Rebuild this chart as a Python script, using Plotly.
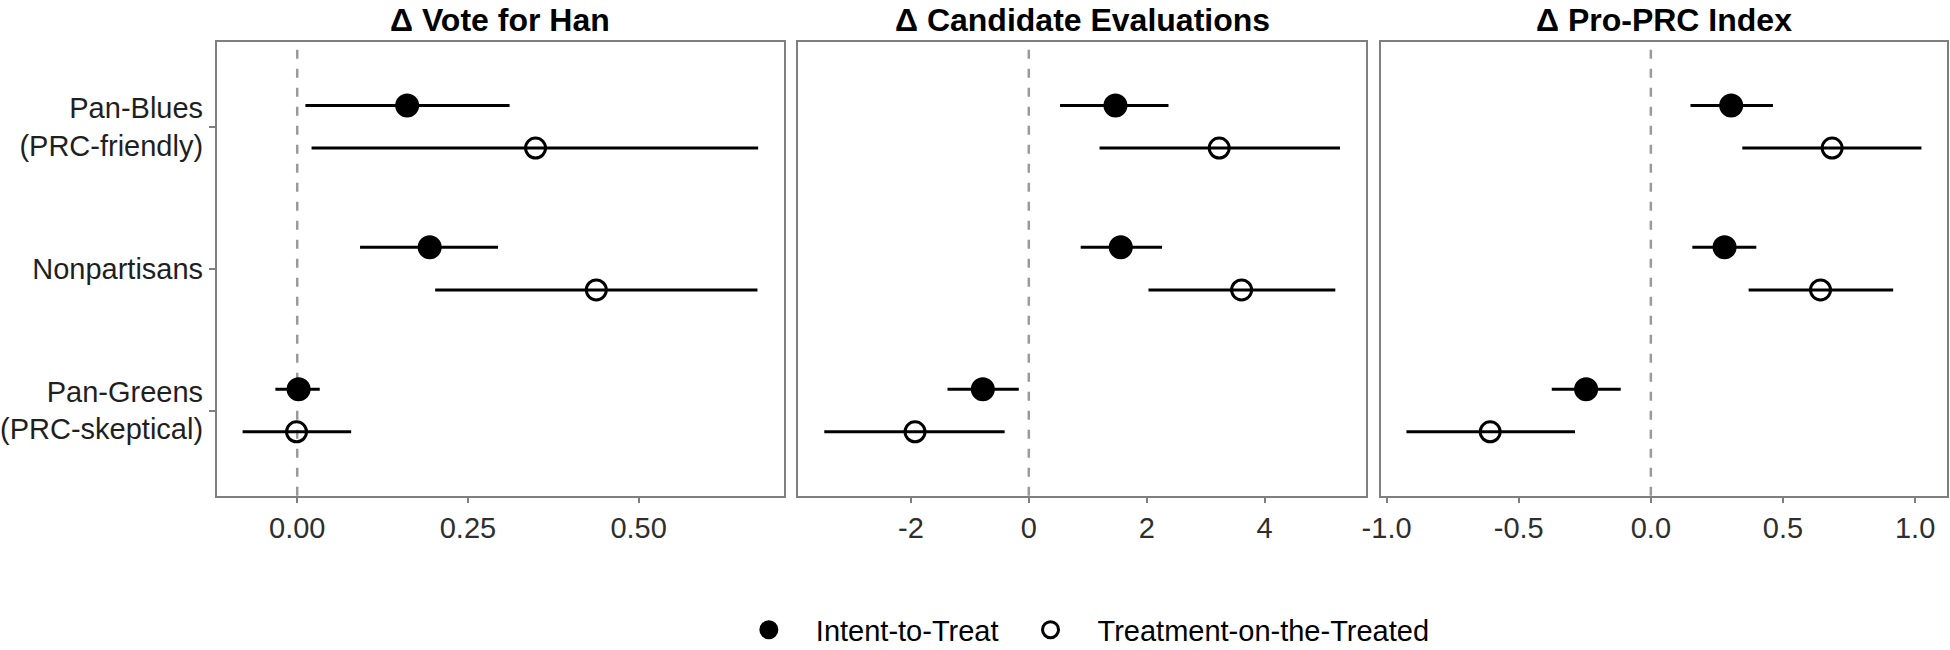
import plotly.graph_objects as go

# ---------------- data ----------------
groups = ["Pan-Blues<br>(PRC-friendly)", "Nonpartisans", "Pan-Greens<br>(PRC-skeptical)"]
group_pos = [3, 2, 1]
panel_titles = ["<b>Δ Vote for Han</b>", "<b>Δ Candidate Evaluations</b>", "<b>Δ Pro-PRC Index</b>"]
series_names = ["Intent-to-Treat", "Treatment-on-the-Treated"]

# Δ Vote for Han
vote_itt_est = [0.161, 0.194, 0.002]
vote_itt_lo = [0.012, 0.092, -0.032]
vote_itt_hi = [0.311, 0.294, 0.033]
vote_tot_est = [0.349, 0.438, -0.001]
vote_tot_lo = [0.021, 0.202, -0.080]
vote_tot_hi = [0.675, 0.674, 0.079]

# Δ Candidate Evaluations
cand_itt_est = [1.47, 1.56, -0.78]
cand_itt_lo = [0.53, 0.88, -1.38]
cand_itt_hi = [2.37, 2.26, -0.17]
cand_tot_est = [3.23, 3.61, -1.93]
cand_tot_lo = [1.20, 2.03, -3.47]
cand_tot_hi = [5.28, 5.20, -0.41]

# Δ Pro-PRC Index
prc_itt_est = [0.304, 0.279, -0.245]
prc_itt_lo = [0.150, 0.157, -0.375]
prc_itt_hi = [0.462, 0.399, -0.114]
prc_tot_est = [0.686, 0.642, -0.608]
prc_tot_lo = [0.346, 0.370, -0.925]
prc_tot_hi = [1.024, 0.917, -0.287]

vote_ticks = [0, 0.25, 0.5]
vote_ticktext = ["0.00", "0.25", "0.50"]
cand_ticks = [-2, 0, 2, 4]
cand_ticktext = ["-2", "0", "2", "4"]
prc_ticks = [-1.0, -0.5, 0.0, 0.5, 1.0]
prc_ticktext = ["-1.0", "-0.5", "0.0", "0.5", "1.0"]

# ---------------- figure ----------------
FONT = "Liberation Sans, Arial, Helvetica, sans-serif"
BORDER = "#7f7f7f"
TICKTXT = "#2e2e2e"
dodge = 0.15

panels = [
    dict(itt=(vote_itt_est, vote_itt_lo, vote_itt_hi), tot=(vote_tot_est, vote_tot_lo, vote_tot_hi),
         ticks=vote_ticks, ticktext=vote_ticktext, rng=[-0.118, 0.713], dom=[0.1111, 0.4021]),
    dict(itt=(cand_itt_est, cand_itt_lo, cand_itt_hi), tot=(cand_tot_est, cand_tot_lo, cand_tot_hi),
         ticks=cand_ticks, ticktext=cand_ticktext, rng=[-3.91, 5.72], dom=[0.4094, 0.7005]),
    dict(itt=(prc_itt_est, prc_itt_lo, prc_itt_hi), tot=(prc_tot_est, prc_tot_lo, prc_tot_hi),
         ticks=prc_ticks, ticktext=prc_ticktext, rng=[-1.022, 1.121], dom=[0.7081, 0.9985]),
]

fig = go.Figure()
layout = dict(
    width=1950, height=650,
    margin=dict(l=0, r=0, t=0, b=0, autoexpand=False),
    paper_bgcolor="white", plot_bgcolor="white",
    font=dict(family=FONT, size=29, color="black"),
    showlegend=True,
    legend=dict(orientation="h", x=0.553, xanchor="center", y=0.031, yanchor="middle",
                font=dict(size=29, color="black"), bgcolor="rgba(0,0,0,0)",
                itemsizing="trace", itemwidth=84, tracegroupgap=0),
    annotations=[], shapes=[],
)

YDOM = [0.2375, 0.936]
for i, p in enumerate(panels):
    n = "" if i == 0 else str(i + 1)
    xa, ya = "x" + n, "y" + n
    for k, (key, sym, off, sz) in enumerate([("itt", "circle", dodge, 21), ("tot", "circle-open", -dodge, 20)]):
        est, lo, hi = p[key]
        fig.add_trace(go.Scatter(
            x=est, y=[g + off for g in group_pos],
            mode="markers", name=series_names[k], showlegend=(i == 0),
            xaxis=xa, yaxis=ya,
            marker=dict(symbol=sym, size=sz, color="black", line=dict(color="black", width=3)),
            error_x=dict(type="data", symmetric=False,
                         array=[h - e for h, e in zip(hi, est)],
                         arrayminus=[e - l for e, l in zip(est, lo)],
                         width=0, thickness=3, color="black"),
        ))
    layout["xaxis" + n] = dict(
        domain=p["dom"], range=p["rng"], anchor=ya, automargin=False,
        tickvals=p["ticks"], ticktext=p["ticktext"],
        showgrid=False, zeroline=False,
        showline=True, linecolor=BORDER, linewidth=1.5, mirror=True,
        ticks="outside", ticklen=6, tickwidth=1.5, tickcolor=BORDER,
        tickfont=dict(size=29, color=TICKTXT),
    )
    layout["yaxis" + n] = dict(
        domain=YDOM, range=[0.4, 3.6], anchor=xa, automargin=False,
        tickvals=group_pos, ticktext=groups if i == 0 else [""] * 3,
        showticklabels=(i == 0),
        showgrid=False, zeroline=False,
        showline=True, linecolor=BORDER, linewidth=1.5, mirror=True,
        ticks="outside" if i == 0 else "", ticklen=6, tickwidth=1.5, tickcolor=BORDER,
        tickfont=dict(size=29, color="#1f1f1f"),
    )
    layout["shapes"].append(dict(
        type="line", xref=xa, yref=ya + " domain", x0=0, x1=0, y0=0, y1=1,
        line=dict(color="#9a9a9a", width=2.5, dash="9px,10px"), layer="below",
    ))
    layout["annotations"].append(dict(
        text=panel_titles[i], xref="paper", yref="paper",
        x=(p["dom"][0] + p["dom"][1]) / 2, y=1.0, xanchor="center", yanchor="top",
        showarrow=False, font=dict(size=32, color="black", family=FONT),
    ))

fig.update_layout(**layout)
fig.write_html(
    "out.html",
    config={"displayModeBar": False},
    post_script="document.body.style.margin='0';document.body.style.padding='0';"
                "document.documentElement.style.overflow='hidden';document.body.style.overflow='hidden';",
)
